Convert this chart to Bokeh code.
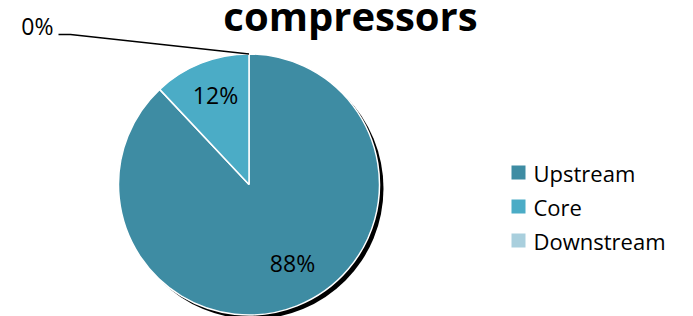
import math
from bokeh.plotting import figure
from bokeh.models import Range1d, ColumnDataSource
from bokeh.core.properties import value
from bokeh.embed import file_html
from bokeh.resources import INLINE

# ---- data ----
categories = ["Upstream", "Core", "Downstream"]
shares = [88, 12, 0]
colors = ["#3E8CA3", "#4BACC6", "#A9CFDD"]
pct_labels = ["88%", "12%", "0%"]
title_text = "compressors"

# ---- layout (pixel coordinates of the picture, y measured downward) ----
FW, FH = 677, 316
CX, CY, R = 248.5, 184.0, 130.5
SHADOW = 4

def Y(py):
    return FH - py

p = figure(width=FW, height=FH, output_backend="svg", toolbar_location=None,
           x_range=Range1d(0, FW), y_range=Range1d(0, FH), min_border=0)
p.axis.visible = False
p.grid.visible = False
p.outline_line_color = None
p.background_fill_color = "white"

# wedge angles: start at 12 o'clock, go clockwise
total = float(sum(shares))
starts, ends = [], []
cum = 0.0
for v in shares:
    a0 = math.pi / 2 - 2 * math.pi * cum / total
    cum += v
    a1 = math.pi / 2 - 2 * math.pi * cum / total
    starts.append(a0)
    ends.append(a1)

# shadow
p.circle(x=[CX + SHADOW], y=[Y(CY + SHADOW)], radius=R, fill_color="black",
         line_color=None)

nz = [i for i, v in enumerate(shares) if v > 0]
src = ColumnDataSource(dict(
    x=[CX] * len(nz), y=[Y(CY)] * len(nz),
    start=[starts[i] for i in nz], end=[ends[i] for i in nz],
    color=[colors[i] for i in nz]))
p.wedge(x="x", y="y", radius=R, start_angle="start", end_angle="end",
        direction="clock", fill_color="color", line_color="white",
        line_width=1.5, source=src)

# inside labels (positions in pixels)
inside_pos = {0: (292, 262), 1: (215, 94)}
for i, (lx, ly) in inside_pos.items():
    p.text(x=[lx], y=[Y(ly)], text=[pct_labels[i]], text_font=value("Open Sans"),
           text_font_size="23px", text_color="black", text_align="center",
           text_baseline="middle")

# outside label for the zero slice with leader line
zi = 2
ex = CX + R * math.cos(starts[zi])
ey = CY - R * math.sin(starts[zi])
p.line(x=[ex, 70, 58], y=[Y(ey), Y(34), Y(34)], line_color="black", line_width=1.5)
p.text(x=[53], y=[Y(25)], text=[pct_labels[zi]], text_font=value("Open Sans"),
       text_font_size="23px", text_color="black", text_align="right",
       text_baseline="middle")

# title
p.text(x=[350], y=[Y(15)], text=[title_text], text_font=value("Open Sans"),
       text_font_style="bold", text_font_size="40px", text_color="black",
       text_align="center", text_baseline="alphabetic")

# legend
row_y = [172, 206, 240]
sq = 14
for i, cat in enumerate(categories):
    ry = row_y[i]
    p.rect(x=[511 + sq / 2], y=[Y(ry)], width=sq, height=sq,
           fill_color=colors[i], line_color=None)
    p.text(x=[533], y=[Y(ry)], text=[cat], text_font=value("Open Sans"),
           text_font_size="22px", text_color="black", text_align="left",
           text_baseline="middle")

open("out.html", "w").write(file_html(p, INLINE))
